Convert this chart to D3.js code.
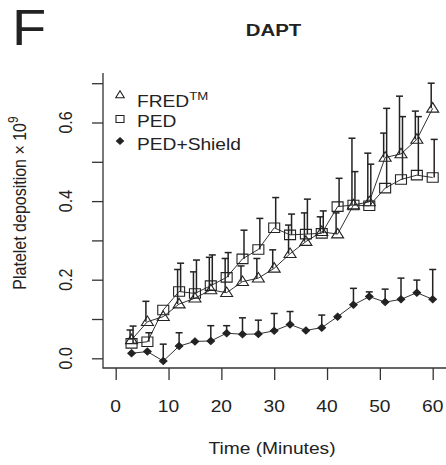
<!DOCTYPE html>
<html>
<head>
<meta charset="utf-8">
<script src="https://cdn.jsdelivr.net/npm/d3@7"></script>
<style>
  body { margin: 0; background: #fff; }
  text { font-family: "Liberation Sans", Arial, sans-serif; fill: #222; }
</style>
</head>
<body>
<div id="chart-area"></div>
<script>
// time points (minutes)
var times = [3, 6, 9, 12, 15, 18, 21, 24, 27, 30, 33, 36, 39, 42, 45, 48, 51, 54, 57, 60];

// FRED (open triangles)
var fred      = [0.047, 0.093, 0.106, 0.138, 0.153, 0.174, 0.167, 0.195, 0.204, 0.229, 0.266, 0.297, 0.322, 0.316, 0.390, 0.398, 0.511, 0.520, 0.557, 0.636];
var fredUpper = [0.072, 0.145, 0.106, 0.226, 0.220, 0.257, 0.254, 0.235, 0.254, 0.276, 0.339, 0.370, 0.360, 0.370, 0.560, 0.522, 0.573, 0.667, 0.629, 0.700];

// PED (open squares)
var ped      = [0.038, 0.042, 0.123, 0.170, 0.165, 0.185, 0.206, 0.253, 0.277, 0.332, 0.314, 0.316, 0.318, 0.386, 0.390, 0.388, 0.433, 0.455, 0.466, 0.460];
var pedUpper = [0.082, 0.065, 0.123, 0.242, 0.250, 0.263, 0.269, 0.326, 0.356, 0.409, 0.367, 0.405, 0.375, 0.458, 0.475, 0.494, 0.636, 0.615, 0.615, 0.557];

// PED+Shield (filled diamonds)
var shield      = [0.013, 0.017, -0.007, 0.031, 0.043, 0.044, 0.064, 0.061, 0.062, 0.070, 0.086, 0.071, 0.078, 0.106, 0.136, 0.157, 0.143, 0.150, 0.167, 0.150];
var shieldUpper = [0.013, 0.017, 0.036, 0.065, 0.043, 0.083, 0.083, 0.103, 0.097, 0.114, 0.119, 0.071, 0.110, 0.106, 0.178, 0.169, 0.176, 0.204, 0.199, 0.226];

var xTicks = [0, 10, 20, 30, 40, 50, 60];
var yTicks = [0, 0.1, 0.2, 0.3, 0.4, 0.5, 0.6, 0.7];
var yLabels = [0, 0.2, 0.4, 0.6];

var width = 446, height = 465;
var sx = 1.2; // the figure is stretched a bit horizontally
var ink = '#222';

var svg = d3.select('#chart-area').append('svg')
    .attr('width', width)
    .attr('height', height);

var x = d3.scaleLinear().domain([0, 60]).range([115.7, 432.7]);
var y = d3.scaleLinear().domain([0, 0.7]).range([358.3, 83.2]);

function place(tx, ty, rot) {
    return 'translate(' + tx + ',' + ty + ') scale(' + sx + ',1)' + (rot ? ' rotate(' + rot + ')' : '');
}

// panel letter + title
svg.append('text')
    .attr('transform', 'translate(12,45) scale(1.12,1)')
    .attr('font-size', 50)
    .text('F');
svg.append('text')
    .attr('transform', place(273.5, 36))
    .attr('text-anchor', 'middle')
    .attr('font-size', 17)
    .attr('font-weight', 'bold')
    .text('DAPT');

// L-shaped frame
svg.append('path')
    .attr('d', 'M103,73V368H446')
    .attr('fill', 'none')
    .attr('stroke', '#333')
    .attr('stroke-width', 1.3);

// X axis
var xAxisGroup = svg.append('g')
    .attr('transform', 'translate(0,368)')
    .attr('color', '#333')
    .call(d3.axisBottom(x).tickValues(xTicks).tickSize(12).tickFormat(''));
xAxisGroup.select('.domain').remove();
xAxisGroup.selectAll('line').attr('stroke-width', 1.3);

svg.selectAll('.xlab').data(xTicks).enter().append('text')
    .attr('class', 'xlab')
    .attr('transform', d => place(x(d), 412))
    .attr('text-anchor', 'middle')
    .attr('font-size', 16)
    .text(d => d);

// Y axis
var yAxisGroup = svg.append('g')
    .attr('transform', 'translate(103,0)')
    .attr('color', '#333')
    .call(d3.axisLeft(y).tickValues(yTicks).tickSize(11).tickFormat(''));
yAxisGroup.select('.domain').remove();
yAxisGroup.selectAll('line').attr('stroke-width', 1.3);

svg.selectAll('.ylab').data(yLabels).enter().append('text')
    .attr('class', 'ylab')
    .attr('transform', d => place(72, y(d), -90))
    .attr('text-anchor', 'middle')
    .attr('font-size', 16)
    .text(d => d3.format('.1f')(d));

// axis titles
svg.append('text')
    .attr('transform', place(272, 454))
    .attr('text-anchor', 'middle')
    .attr('font-size', 16)
    .text('Time (Minutes)');

var yTitle = svg.append('text')
    .attr('transform', place(26, 203, -90))
    .attr('text-anchor', 'middle')
    .attr('font-size', 16);
yTitle.append('tspan').text('Platelet deposition \u00d7 10');
yTitle.append('tspan').attr('dy', -7).attr('font-size', 12).text('9');

// marker paths (w = width, h = height)
function triPath(w, h) {
    return 'M0,' + (-h * 0.6) + 'L' + (w / 2) + ',' + (h * 0.4) + 'L' + (-w / 2) + ',' + (h * 0.4) + 'Z';
}
function sqPath(w, h) {
    return 'M' + (-w / 2) + ',' + (-h / 2) + 'h' + w + 'v' + h + 'h' + (-w) + 'Z';
}
function diaPath(w, h) {
    return 'M0,' + (-h / 2) + 'L' + (w / 2) + ',0L0,' + (h / 2) + 'L' + (-w / 2) + ',0Z';
}

var series = [
    { name: 'fred', vals: fred, up: fredUpper, shape: triPath(12, 9.5), fill: 'none', dx: -1.5 },
    { name: 'ped', vals: ped, up: pedUpper, shape: sqPath(11, 9.5), fill: 'none', dx: 1.5 },
    { name: 'shield', vals: shield, up: shieldUpper, shape: diaPath(7.5, 7), fill: ink, dx: 0 }
];

var line = d3.line()
    .x(d => x(d.t))
    .y(d => y(d.v));

series.forEach(s => {
    var pts = times.map((t, i) => ({ t: t, v: s.vals[i], u: s.up[i] }));

    svg.append('path')
        .datum(pts)
        .attr('d', line)
        .attr('fill', 'none')
        .attr('stroke', '#333')
        .attr('stroke-width', 1);

    var bars = svg.append('g').attr('stroke', ink).attr('stroke-width', 1.5);
    pts.filter(d => d.u > d.v).forEach(d => {
        var bx = x(d.t) + s.dx;
        bars.append('line')
            .attr('x1', bx).attr('x2', bx)
            .attr('y1', y(d.v)).attr('y2', y(d.u));
        bars.append('line')
            .attr('x1', bx - 3.5).attr('x2', bx + 3.5)
            .attr('y1', y(d.u)).attr('y2', y(d.u));
    });

    svg.selectAll('.m-' + s.name).data(pts).enter().append('path')
        .attr('class', 'm-' + s.name)
        .attr('transform', d => 'translate(' + x(d.t) + ',' + y(d.v) + ')')
        .attr('d', s.shape)
        .attr('fill', s.fill)
        .attr('stroke', ink)
        .attr('stroke-width', 1.1);
});

// legend
var legend = [
    { label: 'FRED', sup: 'TM', shape: triPath(8.5, 7), fill: 'none', my: 95, ty: 107 },
    { label: 'PED', sup: null, shape: sqPath(8, 7), fill: 'none', my: 119, ty: 127 },
    { label: 'PED+Shield', sup: null, shape: diaPath(7, 6.5), fill: ink, my: 141, ty: 150 }
];
legend.forEach(l => {
    svg.append('path')
        .attr('transform', 'translate(120,' + l.my + ')')
        .attr('d', l.shape)
        .attr('fill', l.fill)
        .attr('stroke', ink)
        .attr('stroke-width', 1.1);
    var t = svg.append('text')
        .attr('transform', place(137, l.ty))
        .attr('font-size', 16);
    t.append('tspan').text(l.label);
    if (l.sup) t.append('tspan').attr('dy', -7).attr('font-size', 11).text(l.sup);
});
</script>
</body>
</html>
